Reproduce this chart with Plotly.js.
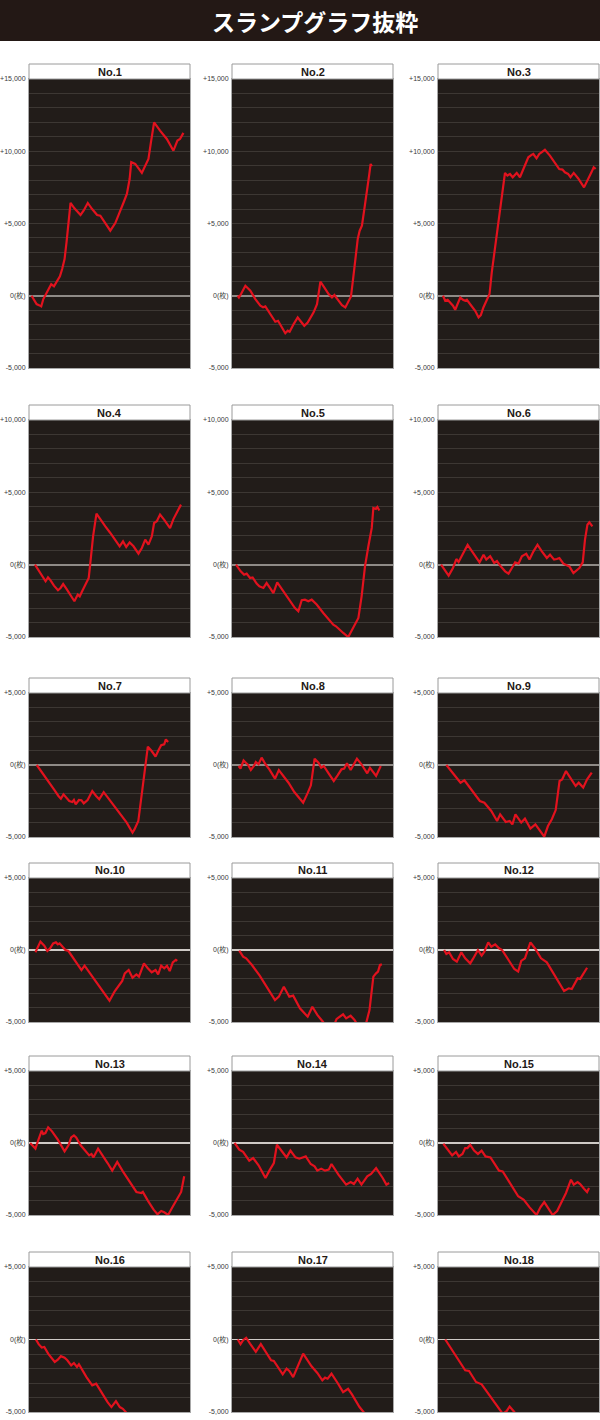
<!DOCTYPE html>
<html><head><meta charset="utf-8">
<script src="https://cdn.plot.ly/plotly-3.0.1.min.js"></script>
<style>html,body{margin:0;padding:0;background:#fff}#chart{width:600px;height:1420px}</style>
</head><body><div id="chart"></div>
<script>
// ---- data: [game position (% of day), 差枚 (coins)] ----
const pageTitle = 'スランプグラフ抜粋';
const panelNames = ['No.1','No.2','No.3','No.4','No.5','No.6','No.7','No.8','No.9',
  'No.10','No.11','No.12','No.13','No.14','No.15','No.16','No.17','No.18'];

const slump1 = [[1.6,0],[4.7,-580],[6.2,-650],[7.6,-740],[8.9,-230],[11.3,230],[13.8,800],[15.5,650],[17.5,1040],[19.2,1340],[20.6,1850],[22.1,2540],[23.3,3700],[24.5,5100],[25.8,6420],[28.2,6050],[32,5590],[34,5900],[36.5,6420],[39.2,6000],[42.3,5590],[44.3,5540],[48,4960],[50.5,4500],[53.6,5030],[55.7,5660],[58.8,6470],[60.8,7040],[62.5,8080],[63.5,9240],[66,9120],[70.1,8500],[74.2,9470],[75.7,10600],[77.7,12000],[81.4,11430],[85.6,10850],[89.7,10040],[92.2,10740],[93.8,10850],[95.9,11270]];
const slump2 = [[3.5,0],[4.3,-120],[5.6,120],[8.3,690],[11.4,350],[14.5,-230],[17.6,-690],[19.3,-800],[20.7,-740],[23.8,-1270],[26.9,-1800],[28.6,-1730],[30.6,-2080],[33.1,-2590],[34.6,-2420],[35.8,-2490],[38.3,-1960],[40.8,-1500],[42.4,-1730],[44.9,-2080],[47,-1850],[48.7,-1500],[50.7,-1150],[52.8,-580],[53.8,230],[54.9,970],[57.3,580],[60,120],[62.1,-120],[63.6,50],[66.3,-350],[68.3,-650],[70.4,-810],[72,-460],[73.9,-50],[75.2,1150],[76.6,2540],[78.1,3930],[79.3,4500],[80.7,4850],[82.2,6000],[83.9,7160],[85.3,8430],[86.1,9120],[86.9,8960]];
const slump3 = [[3.1,0],[4.5,-350],[6,-280],[7.6,-460],[9.3,-690],[10.7,-970],[12.2,-580],[13.8,-120],[15.5,-280],[16.9,-350],[17.9,-280],[20.4,-650],[23.1,-1040],[25.2,-1500],[26.6,-1340],[28.2,-810],[30.7,-230],[32,120],[33.4,1620],[35.5,3460],[37.5,5310],[39.6,7160],[41.6,8500],[43.1,8310],[44.7,8430],[46.4,8200],[48.9,8500],[50.9,8200],[53,8730],[54.6,9120],[56.1,9580],[58.1,9750],[59.2,9810],[61.2,9510],[62.9,9810],[64.3,9930],[66.4,10100],[69.5,9700],[72.6,9240],[75.3,8770],[77.3,8730],[78.8,8540],[80.8,8430],[82.3,8200],[84.3,8500],[87,8130],[90.7,7500],[92.6,7900],[95.3,8540],[96.7,8890],[97.9,8770]];
const slump4 = [[3.7,0],[6.2,-460],[8.9,-920],[10.3,-1150],[11.8,-880],[13.4,-1080],[15.5,-1450],[18,-1770],[19.6,-1610],[21.2,-1340],[23.3,-1680],[25.8,-2140],[28.2,-2530],[30.3,-2070],[31.5,-2190],[33,-1840],[35.1,-1380],[37.1,-920],[38.1,120],[39.8,1960],[41.9,3530],[44.3,3110],[47.4,2650],[50.5,2190],[53.6,1680],[56.3,1270],[58.4,1610],[60.4,1220],[62.5,1540],[64.9,1270],[68,760],[70.1,1150],[72.2,1730],[74.2,1380],[76.3,1960],[77.7,2880],[79.4,3000],[81.4,3460],[83.9,3110],[87.6,2530],[89.7,3150],[92.2,3690],[94.4,4150]];
const slump5 = [[2.5,0],[5.4,-460],[7.5,-690],[9.1,-620],[11.2,-920],[12.8,-880],[15.3,-1310],[17,-1500],[19.5,-1610],[21.5,-1270],[24,-1680],[25.7,-1960],[28.1,-1220],[31.9,-1840],[36,-2530],[39.1,-3000],[41.2,-3220],[43.3,-2460],[45.3,-2420],[47.4,-2530],[49.5,-2420],[52.6,-2760],[56.7,-3340],[60.9,-3850],[62.9,-4150],[64.6,-4260],[66.7,-4490],[69.1,-4720],[72.2,-5000],[75.4,-4370],[78.5,-3680],[80.5,-2190],[82.6,-120],[84.7,1270],[86.8,2540],[87.8,3920],[89.4,3850],[90.3,3990],[91.5,3750]];
const slump6 = [[1.9,0],[4.5,-460],[6.6,-760],[9.3,-230],[11.4,390],[12.8,180],[14.9,580],[16.3,920],[18.4,1360],[21.1,920],[24.2,460],[25.8,160],[28.3,690],[30,350],[32.4,580],[34.9,120],[36.6,250],[38.6,-70],[41.7,-460],[43.8,-620],[45.9,-230],[47.9,160],[50,70],[52.1,580],[54.8,760],[56.8,350],[59.3,920],[61.8,1380],[64.5,920],[67.6,460],[69.6,690],[72.1,350],[73.8,390],[75.4,460],[77.9,70],[80,-70],[81.6,-120],[84.1,-580],[86.2,-350],[87.8,-230],[89.9,160],[91.3,1730],[92.8,2760],[94,2930],[95.9,2650]];
const slump7 = [[4.8,0],[8.3,-530],[11.9,-1110],[15.5,-1690],[18.3,-2150],[19.8,-2340],[21.4,-2040],[23.1,-2270],[25,-2500],[26.9,-2570],[27.9,-2430],[29,-2730],[31,-2430],[32.6,-2450],[34,-2660],[36.4,-2430],[39.3,-1810],[41.7,-2150],[43.6,-2380],[46.4,-1880],[51.2,-2570],[55.9,-3260],[60.7,-4000],[64.3,-4700],[65.5,-4470],[67.9,-3890],[69.8,-2270],[71.4,-530],[73.8,1270],[76.2,970],[78.6,580],[80.2,970],[82.1,1370],[84,1440],[85,1780],[86.4,1600]];
const slump8 = [[4.1,-70],[5.3,-250],[7.2,320],[10,0],[11.7,-350],[13.6,-70],[14.8,210],[16.5,50],[18.4,510],[20.8,50],[23.2,-300],[26.7,-950],[29.1,-350],[31.5,-720],[35.1,-1230],[38.7,-1880],[44.2,-2620],[47.1,-1920],[49,-1410],[51.3,440],[53.7,160],[55.4,-190],[57,-70],[60.1,-600],[63.2,-1110],[65.6,-720],[68,-300],[69.7,-250],[71.4,120],[73.7,-350],[77.6,440],[80.4,50],[84,-580],[85.7,-190],[89.5,-760],[92.4,-70]];
const slump9 = [[5.2,0],[9.3,-580],[14,-1230],[16.4,-1060],[22.4,-1920],[26,-2500],[28.8,-2620],[33.1,-3190],[36.7,-3890],[38.6,-3430],[42.1,-3960],[44.5,-3890],[46.2,-4120],[48.1,-3430],[51.7,-4000],[54,-3730],[57.4,-4420],[60.5,-4120],[66,-4980],[68.3,-4240],[70.7,-3770],[73.1,-3130],[75.5,-1110],[77.1,-1000],[79.5,-420],[82.6,-1000],[85.5,-1460],[87.4,-1230],[90.2,-1570],[92.6,-1000],[95.5,-530]];
const slump10 = [[4,-160],[5.2,120],[7.1,580],[9.5,300],[11.4,-70],[13.1,120],[15,460],[16.7,530],[17.9,390],[19,460],[20.7,230],[22.6,0],[24.5,-70],[28.6,-760],[32.6,-1390],[34.5,-1090],[37.4,-1550],[41.7,-2200],[46,-2940],[50,-3520],[53.1,-2890],[56,-2480],[57.9,-2150],[59.5,-1620],[61.9,-1390],[64.3,-1920],[66.7,-1690],[68.3,-1850],[71.4,-930],[73.8,-1270],[76.2,-1550],[78.6,-1390],[80.2,-1690],[82.1,-1090],[84,-1270],[85.7,-1090],[87.4,-1460],[89.3,-860],[91.2,-690],[92.1,-760]];
const slump11 = [[4.5,-50],[6.9,-460],[8.8,-580],[12.4,-1040],[17.2,-1780],[22,-2620],[26.7,-3470],[29.1,-3240],[32.2,-2550],[35.6,-3240],[38,-3170],[42.2,-4050],[47,-4630],[49.9,-3940],[53,-4510],[56.6,-5000],[60,-5600],[63.5,-5200],[64.9,-4800],[66.1,-4700],[69,-4470],[70.9,-4750],[73.7,-4560],[76.1,-4860],[78.5,-5300],[81,-5500],[83.5,-5000],[85.4,-4170],[87.8,-1850],[89.5,-1620],[90.7,-1500],[91.9,-1040],[93.1,-1000]];
const slump12 = [[3.8,0],[5.2,-280],[6.9,-160],[9.3,-620],[11.7,-810],[14.5,-160],[16.9,-580],[20,-930],[21.7,-620],[24.8,0],[27.1,-390],[28.8,-120],[31.2,530],[33.1,230],[35.5,390],[37.9,120],[39.8,0],[43.8,-690],[47.4,-1320],[49.8,-1500],[51.7,-760],[54,-580],[57.4,530],[60.5,70],[64,-580],[67.6,-860],[73.6,-1970],[78.3,-2850],[81.2,-2660],[83.1,-2710],[86.7,-1970],[88.3,-2010],[92.6,-1230]];
const slump13 = [[0.7,0],[2.4,-230],[4,-390],[5.5,120],[7.9,860],[8.8,620],[10.2,690],[11.9,1090],[14.3,810],[17.9,230],[22.1,-580],[24.5,-160],[26.2,390],[27.9,530],[29.3,390],[32.1,-160],[35.7,-620],[37.4,-860],[38.8,-760],[40,-1000],[42.9,-390],[45.2,-760],[48.8,-1390],[51.7,-1920],[54.8,-1320],[58.3,-1970],[63.1,-2780],[66.7,-3400],[69.8,-3470],[70.7,-3400],[73.8,-4000],[77.4,-4630],[79.8,-4950],[82.1,-4720],[84,-4810],[86.4,-5000],[88.8,-4510],[91.7,-3940],[94.5,-3400],[96.4,-2310]];
const slump14 = [[1.5,0],[2.1,-70],[4.5,-460],[6.9,-620],[10.7,-1230],[13.1,-1040],[16.5,-1550],[20.8,-2430],[23.2,-1920],[26,-1390],[27.9,-120],[30.8,-530],[33.9,-1000],[36.3,-530],[39.4,-1000],[41.8,-1090],[44.2,-1000],[45.8,-930],[48.9,-1460],[51.3,-1620],[53,-1920],[55.4,-1780],[57.8,-1920],[60.1,-1850],[61.8,-1460],[66.1,-2200],[70.9,-2890],[73.7,-2710],[75.7,-2850],[78,-2480],[80.4,-2890],[84,-2310],[86.4,-2150],[89.5,-1740],[93.6,-2430],[95.9,-2890],[97.6,-2780]];
const slump15 = [[3.3,-50],[5.7,-390],[8.8,-860],[11.2,-620],[12.9,-930],[15.2,-760],[16.9,-350],[18.3,-350],[20,-120],[22.4,-530],[24.8,-760],[27.1,-530],[29.5,-930],[32.6,-1000],[37.9,-1920],[40.2,-1970],[45,-2850],[49.8,-3700],[53.3,-3940],[56.9,-4470],[61.2,-5000],[63.6,-4470],[66,-4100],[68.3,-4510],[71.2,-5000],[74,-4720],[76.4,-4170],[79.5,-3470],[82.6,-2550],[84.3,-2890],[86.7,-2710],[88.3,-2850],[90.7,-3170],[92.6,-3400],[93.8,-3130]];
const slump16 = [[4.3,0],[6,-320],[7.9,-550],[9.5,-510],[11.9,-970],[16,-1550],[17.9,-1390],[19.8,-1150],[22.1,-1250],[23.8,-1430],[26.2,-1780],[27.9,-1620],[29.8,-1890],[31,-1710],[35.7,-2590],[39.3,-3160],[41.7,-3050],[45.2,-3700],[48.8,-4320],[51.2,-4660],[54,-4250],[56.4,-4660],[58.3,-4780],[60.7,-5080]];
const slump17 = [[3.6,0],[5.3,-320],[6.9,-50],[8.8,120],[11.2,-280],[14.8,-850],[17.9,-320],[22,-1020],[24.3,-1430],[26,-1480],[29.1,-2010],[31.5,-2400],[33.9,-2010],[35.6,-2170],[38,-2590],[41,-1780],[44.2,-970],[49.4,-1850],[53,-2310],[56.1,-2820],[57.8,-2630],[59.4,-2700],[61.8,-2360],[65.6,-3000],[69,-3630],[72.1,-3400],[74.5,-3790],[79.2,-4660],[82.3,-5080]];
const slump18 = [[4.5,0],[8.1,-620],[12.9,-1430],[16.9,-2120],[19.3,-2170],[23.6,-2930],[27.1,-3090],[31.9,-3860],[36.7,-4660],[40.2,-5120],[42.6,-4940],[44.5,-4620],[47.4,-5000],[48.6,-5240]];

const allSlumps = [slump1,slump2,slump3,slump4,slump5,slump6,slump7,slump8,slump9,
  slump10,slump11,slump12,slump13,slump14,slump15,slump16,slump17,slump18];

// y-axis ranges & tick labels per row
const rowYRanges = [[-5000,15000],[-5000,10000],[-5000,5000],[-5000,5000],[-5000,5000],[-5000,5000]];
const tickValsRow1 = [-5000,0,5000,10000,15000];
const tickTextRow1 = ['-5,000','0(枚)','+5,000','+10,000','+15,000'];
const tickValsRow2 = [-5000,0,5000,10000];
const tickTextRow2 = ['-5,000','0(枚)','+5,000','+10,000'];
const tickValsSmall = [-5000,0,5000];
const tickTextSmall = ['-5,000','0(枚)','+5,000'];
const rowTickVals = [tickValsRow1,tickValsRow2,tickValsSmall,tickValsSmall,tickValsSmall,tickValsSmall];
const rowTickText = [tickTextRow1,tickTextRow2,tickTextSmall,tickTextSmall,tickTextSmall,tickTextSmall];

// ---- layout geometry (pixels) ----
const W = 600, H = 1420;
const colPx = [[29,190],[232,393],[438,599]];
const rowPx = [[79,368],[420,637],[693,837],[878,1022],[1071,1215],[1267,1412]];
const TITLE_H = 15;
const tickFont = {family:'"Liberation Sans Narrow", "Liberation Sans", Arial, "Noto Sans CJK JP", sans-serif', size:7, color:'#3a3a3a'};

const traces = [];
const layout = {
  width: W, height: H,
  margin: {l:0,r:0,t:0,b:0},
  paper_bgcolor: '#ffffff',
  plot_bgcolor: '#221c19',
  showlegend: false,
  shapes: [{type:'rect', xref:'paper', yref:'paper', x0:0, x1:1, y0:1-41/H, y1:1,
            fillcolor:'#231815', line:{width:0}, layer:'below'}],
  annotations: [{xref:'paper', yref:'paper', x:315/W, y:1-21/H, xanchor:'center', yanchor:'middle',
    text:'<b>'+pageTitle+'</b>', showarrow:false,
    font:{family:'"Noto Sans CJK JP", sans-serif', size:23, color:'#ffffff'}}]
};

allSlumps.forEach((pts, i) => {
  const r = Math.floor(i/3), c = i % 3;
  const n = i === 0 ? '' : String(i+1);
  const [x0, x1] = colPx[c];
  const [y0, y1] = rowPx[r];
  const ph = y1 - y0;
  const light = r >= 3;
  layout['xaxis'+n] = {
    domain:[x0/W, x1/W], range:[0,100], anchor:'y'+n,
    showgrid:false, zeroline:false, showticklabels:false, ticks:'',
    showline:true, linecolor:'#a8a8a8', linewidth:1, mirror:true, fixedrange:true
  };
  layout['yaxis'+n] = {
    domain:[1-y1/H, 1-y0/H], range:rowYRanges[r], anchor:'x'+n,
    tickmode:'array', tickvals:rowTickVals[r], ticktext:rowTickText[r], tickfont:tickFont,
    ticks:'', ticklabelstandoff:1,
    showgrid:true, gridcolor:'#3d3733', gridwidth:1,
    minor:{tickmode:'linear', tick0:0, dtick:1000, showgrid:true, gridcolor:'#3d3733', gridwidth:1, ticks:''},
    zeroline:true, zerolinecolor: light ? '#cfcac6' : '#8f8a86', zerolinewidth: light ? 1.2 : 2,
    showline:true, linecolor:'#a8a8a8', linewidth:1, mirror:true, fixedrange:true
  };
  traces.push({
    type:'scatter', mode:'lines', xaxis:'x'+n, yaxis:'y'+n,
    x: pts.map(p => p[0]), y: pts.map(p => p[1]),
    line:{color:'#e2121e', width:2.2}, hoverinfo:'skip'
  });
  layout.shapes.push({type:'rect', xref:'x'+n+' domain', yref:'y'+n+' domain',
    x0:0, x1:1, y0:1, y1:1+TITLE_H/ph, fillcolor:'#ffffff', line:{color:'#9a9a9a', width:1}});
  layout.annotations.push({xref:'x'+n+' domain', yref:'y'+n+' domain', x:0.5, y:1+TITLE_H/2/ph,
    xanchor:'center', yanchor:'middle', showarrow:false, text:'<b>'+panelNames[i]+'</b>',
    font:{family:'"Liberation Sans Narrow", "Liberation Sans", Arial, sans-serif', size:11, color:'#231815'}});
});

Plotly.newPlot('chart', traces, layout, {displayModeBar:false, staticPlot:true});
</script>
</body></html>
